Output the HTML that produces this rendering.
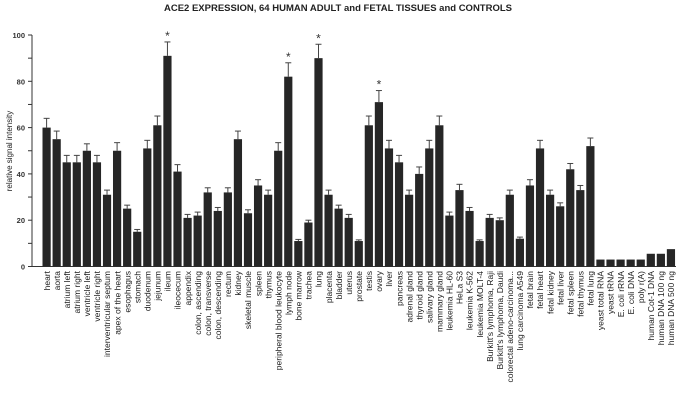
<!DOCTYPE html>
<html><head><meta charset="utf-8"><style>
body{margin:0;background:#fff;width:676px;height:400px;overflow:hidden;font-family:"Liberation Sans",Arial,sans-serif}
svg text{font-family:"Liberation Sans",Arial,sans-serif}
</style></head><body>
<svg id="chart" width="676" height="400">
<text x="338" y="11" text-anchor="middle" font-size="9.5" font-weight="bold" fill="#222">ACE2 EXPRESSION, 64 HUMAN ADULT and FETAL TISSUES and CONTROLS</text>
<text transform="translate(12,151) rotate(-90)" text-anchor="middle" font-size="8" fill="#222">relative signal intensity</text>
<g id="axes"></g><g id="bars"></g><g id="labels"></g>
</svg>
<script>
const categories=["heart","aorta","atrium left","atrium right","ventricle left","ventricle right","interventricular septum","apex of the heart","esophagus","stomach","duodenum","jejunum","ileum","ileocecum","appendix","colon, ascending","colon, transverse","colon, descending","rectum","kidney","skeletal muscle","spleen","thymus","peripheral blood leukocyte","lymph node","bone marrow","trachea","lung","placenta","bladder","uterus","prostate","testis","ovary","liver","pancreas","adrenal gland","thyroid gland","salivary gland","mammary gland","leukemia HL-60","HeLa S3","leukemia K-562","leukemia MOLT-4","Burkitt's lymphoma, Raji","Burkitt's lymphoma, Daudi","colorectal adeno-carcinoma...","lung carcinoma A549","fetal brain","fetal heart","fetal kidney","fetal liver","fetal spleen","fetal thymus","fetal lung","yeast total RNA","yeast tRNA","E. coli rRNA","E. coli DNA","poly r(A)","human Cot-1 DNA","human DNA 100 ng","human DNA 500 ng"];
const values=[60,55,45,45,50,45,31,50,25,15,51,61,91,41,21,22,32,24,32,55,23,35,31,50,82,11,19,90,31,25,21,11,61,71,51,45,31,40,51,61,22,33,24,11,21,20,31,12,35,51,31,26,42,33,52,3,3,3,3,3,5.5,5.5,7.5];
const errors=[4,3.5,3,3,3,3,2,3.5,1.5,1,3.5,4,6,3,1.5,1.5,2,1.5,2,3.5,1.5,2.5,2,3.5,6,0.7,1,6,2,1.5,1.5,0.5,4,5,3.5,3,2,3,3.5,4,1.5,2.5,1.5,0.5,1.5,1,2,0.7,2.5,3.5,2,1.5,2.5,2,3.5,0,0,0,0,0,0,0,0];
const starred=["ileum","lymph node","lung","ovary"];
const yTicks=[0,20,40,60,80,100];
const NS="http://www.w3.org/2000/svg";
const x0=42.5,pitch=10.07,bw=8.2,yBase=266.5,yTop=35;
const y=v=>yBase-(v/100)*(yBase-yTop);
const xc=i=>x0+pitch*i+bw/2;
function mk(tag,attrs,parent){const e=document.createElementNS(NS,tag);for(const k in attrs)e.setAttribute(k,attrs[k]);parent.appendChild(e);return e;}
const ax=document.getElementById('axes'),bg=document.getElementById('bars'),lg=document.getElementById('labels');
let a=mk('line',{x1:32,y1:y(100),x2:32,y2:yBase,stroke:'#333','stroke-width':1},ax);


a=mk('line',{x1:32,y1:yBase,x2:676,y2:yBase,stroke:'#333','stroke-width':1},ax);


for(let v=0;v<=100;v+=10){mk('line',{x1:28,y1:y(v),x2:32,y2:y(v),stroke:'#333','stroke-width':1},ax);}
yTicks.forEach(v=>{const t=mk('text',{x:25,y:y(v)+3,'text-anchor':'end','font-size':7.5,'font-weight':'bold',fill:'#333'},ax);t.textContent=v;

});
categories.forEach((c,i)=>{
 const v=values[i],e=errors[i],cx=xc(i);
 if(e>0){mk('line',{x1:cx,y1:y(v+e),x2:cx,y2:y(v),stroke:'#444','stroke-width':1},bg);
 mk('line',{x1:cx-3,y1:y(v+e),x2:cx+3,y2:y(v+e),stroke:'#444','stroke-width':1},bg);}
 const r=mk('rect',{x:cx-bw/2,y:y(v),width:bw,height:yBase-y(v),fill:'#262626'},bg);
 
 
 if(starred.includes(c)){const s=mk('text',{x:cx,y:y(v+e)-2,'text-anchor':'middle','font-size':12,fill:'#333'},bg);s.textContent='*';
 
 }
 const t=mk('text',{transform:`translate(${cx+3.2},271) rotate(-90)`,'text-anchor':'end','font-size':8.5,fill:'#1a1a1a'},lg);t.textContent=c;
 
 
});
</script>
</body></html>
